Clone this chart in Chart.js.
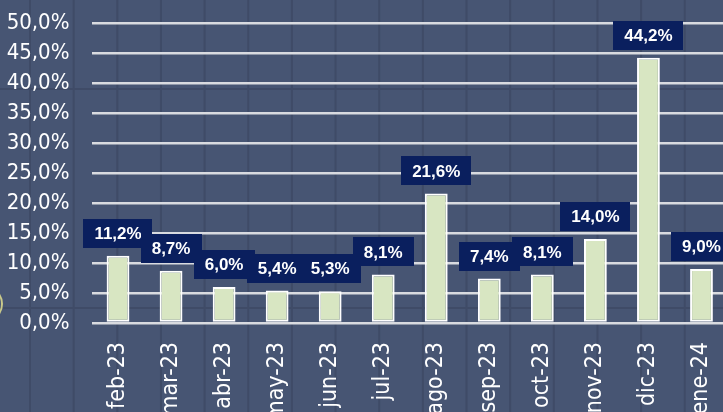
<!DOCTYPE html>
<html>
<head>
<meta charset="utf-8">
<script src="https://cdn.jsdelivr.net/npm/chart.js@4.4.0/dist/chart.umd.min.js"></script>
<style>
  html, body { margin: 0; padding: 0; overflow: hidden; background: #475573; }
  #wrap { position: absolute; left: 0; top: 0; width: 740px; height: 412px; }
</style>
</head>
<body>
<div id="wrap"><canvas id="c" width="740" height="412"></canvas></div>
<script>
const categories = ["feb-23","mar-23","abr-23","may-23","jun-23","jul-23","ago-23","sep-23","oct-23","nov-23","dic-23","ene-24"];
const values = [11.2, 8.7, 6.0, 5.4, 5.3, 8.1, 21.6, 7.4, 8.1, 14.0, 44.2, 9.0];
const yTicks = [0, 5, 10, 15, 20, 25, 30, 35, 40, 45, 50];

const fmt = v => v.toFixed(1).replace('.', ',') + '%';

const bgPattern = {
  id: 'bgPattern',
  beforeDraw(chart) {
    const ctx = chart.ctx;
    ctx.save();
    ctx.fillStyle = '#475573';
    ctx.fillRect(0, 0, chart.width, chart.height);
    ctx.strokeStyle = '#3f4b67';
    ctx.lineWidth = 2;
    for (let x = 30; x < chart.width; x += 43.65) {
      ctx.beginPath(); ctx.moveTo(x, 0); ctx.lineTo(x, chart.height); ctx.stroke();
    }
    [89, 308].forEach(y => {
      ctx.beginPath(); ctx.moveTo(0, y); ctx.lineTo(chart.width, y); ctx.stroke();
    });
    ctx.strokeStyle = '#c9c98a';
    ctx.lineWidth = 2;
    ctx.beginPath();
    ctx.arc(-16, 304, 18, -Math.PI / 2, Math.PI / 2);
    ctx.stroke();
    ctx.restore();
  }
};

const boxLabels = {
  id: 'boxLabels',
  afterDatasetsDraw(chart) {
    const ctx = chart.ctx;
    const meta = chart.getDatasetMeta(0);
    ctx.save();
    ctx.font = 'bold 17px "Liberation Sans", Arial, sans-serif';
    ctx.textAlign = 'center';
    ctx.textBaseline = 'middle';
    meta.data.forEach((el, i) => {
      const txt = fmt(values[i]);
      const w = ctx.measureText(txt).width + 22;
      const h = 29;
      const bottom = el.y - 8;
      const x = el.x;
      ctx.fillStyle = '#0a1f5e';
      ctx.fillRect(Math.round(x - w / 2), Math.round(bottom - h), Math.round(w), h);
      ctx.fillStyle = '#ffffff';
      ctx.fillText(txt, x, bottom - h / 2 + 1);
    });
    ctx.restore();
  }
};

new Chart(document.getElementById('c'), {
  type: 'bar',
  data: {
    labels: categories,
    datasets: [{
      data: values,
      backgroundColor: '#d8e6c2',
      borderColor: '#ffffff',
      borderWidth: 2,
      borderSkipped: false,
      categoryPercentage: 1,
      barPercentage: 0.43
    }]
  },
  options: {
    responsive: false,
    animation: false,
    layout: { padding: { top: 23, right: 12, left: 0, bottom: 0 } },
    plugins: { legend: { display: false }, tooltip: { enabled: false } },
    scales: {
      x: {
        grid: { display: false, drawTicks: false },
        border: { display: false },
        ticks: {
          color: '#ffffff',
          font: { family: '"DejaVu Sans Condensed", "DejaVu Sans", sans-serif', size: 23 },
          minRotation: 90, maxRotation: 90,
          padding: 19,
          autoSkip: false
        },
        afterFit(s) { s.height = 89; s.paddingLeft = 0; s.paddingRight = 0; }
      },
      y: {
        min: 0, max: 50,
        afterBuildTicks(s) { s.ticks = yTicks.map(v => ({ value: v })); },
        grid: { color: '#d9dbe0', lineWidth: 2.5, drawTicks: false },
        border: { display: false },
        ticks: {
          color: '#ffffff',
          font: { family: '"DejaVu Sans Condensed", "DejaVu Sans", sans-serif', size: 22 },
          padding: 22,
          autoSkip: false,
          callback: v => fmt(v)
        },
        afterFit(s) { s.width = 91.5; s.paddingTop = 0; s.paddingBottom = 0; }
      }
    }
  },
  plugins: [bgPattern, boxLabels]
});
</script>
</body>
</html>
